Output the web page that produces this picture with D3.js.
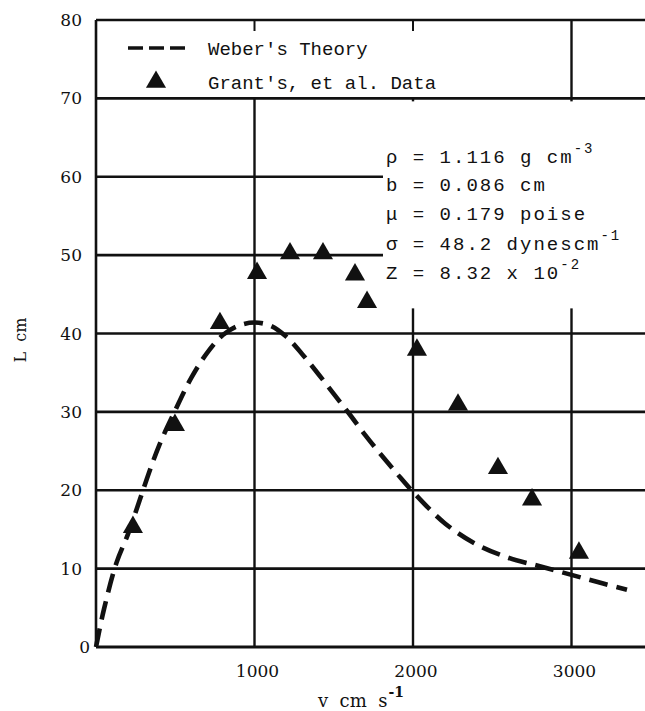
<!DOCTYPE html>
<meta charset="utf-8">
<style>
  body { margin: 0; background: #fff; }
  text { white-space: pre; }
  .tick-label { font-family: "DejaVu Serif", serif; font-size: 17px; fill: #111; }
  .mono { font-family: "Liberation Mono", "DejaVu Sans Mono", monospace; fill: #111; }
</style>
<body>
<div class="chart"></div>
<script src="https://d3js.org/d3.v7.min.js"></script>
<script>

// Grant's et al. data (v in cm/s, L in cm)
var dataV = [233, 498, 782, 1016, 1224, 1432, 1634, 1710, 2025, 2284, 2536, 2751, 3047];
var dataL = [15.3, 28.3, 41.3, 47.7, 50.2, 50.2, 47.5, 44.0, 37.9, 30.9, 22.8, 18.8, 12.0];

// Weber's theory curve
var theoryV = [0, 50, 130, 200, 260, 320, 400, 500, 600, 700, 800, 900, 1000, 1100, 1200,
               1300, 1400, 1500, 1600, 1700, 1800, 1900, 2000, 2200, 2400, 2600, 2800, 3000, 3200, 3350];
var theoryL = [0, 4.8, 10.8, 14.3, 17.8, 21.4, 25.8, 30.2, 34.3, 37.5, 39.8, 41.0, 41.4, 41.0, 39.6,
               37.4, 34.9, 32.3, 29.7, 27.0, 24.5, 22.1, 19.8, 15.8, 13.1, 11.4, 10.3, 9.2, 8.1, 7.3];

var xTicks = [1000, 2000, 3000];
var yTicks = [0, 10, 20, 30, 40, 50, 60, 70, 80];

var width = 645, height = 711;

var x = d3.scaleLinear().domain([0, 3500]).range([96, 650.75]);
var y = d3.scaleLinear().domain([0, 80]).range([647, 20]);

var svg = d3.select(".chart").append("svg")
    .attr("width", width)
    .attr("height", height);

// horizontal grid lines (and top frame)
svg.selectAll(".hgrid")
    .data(yTicks.slice(1))
  .enter().append("line")
    .attr("x1", x(0))
    .attr("x2", width + 5)
    .attr("y1", function(d) { return y(d); })
    .attr("y2", function(d) { return y(d); })
    .style("stroke", "#111")
    .style("stroke-width", 2.6);

// vertical grid lines: 1000 & 2000 start at the 70 line, 3000 from the top
svg.selectAll(".vgrid")
    .data(xTicks)
  .enter().append("line")
    .attr("x1", function(d) { return x(d); })
    .attr("x2", function(d) { return x(d); })
    .attr("y1", function(d) { return d === 3000 ? y(80) : y(70); })
    .attr("y2", y(0))
    .style("stroke", "#111")
    .style("stroke-width", 2.4);

// small ticks under the top frame
svg.selectAll(".toptick")
    .data(xTicks.slice(0, 2))
  .enter().append("line")
    .attr("x1", function(d) { return x(d); })
    .attr("x2", function(d) { return x(d); })
    .attr("y1", y(80))
    .attr("y2", y(80) + 11)
    .style("stroke", "#111")
    .style("stroke-width", 2);

// white panel behind the parameter block
svg.append("rect")
    .attr("x", 383)
    .attr("y", y(70) + 3)
    .attr("width", 280)
    .attr("height", 207)
    .style("fill", "#fff");

// axes lines
svg.append("line")
    .attr("x1", x(0)).attr("x2", x(0))
    .attr("y1", y(80)).attr("y2", y(0))
    .style("stroke", "#111").style("stroke-width", 2.6);
svg.append("line")
    .attr("x1", x(0)).attr("x2", width + 5)
    .attr("y1", y(0)).attr("y2", y(0))
    .style("stroke", "#111").style("stroke-width", 3.2);

// y tick labels
svg.selectAll(".ylab")
    .data(yTicks)
  .enter().append("text")
    .attr("class", "tick-label")
    .attr("x", function(d) { return d === 0 ? 90 : 82; })
    .attr("y", function(d) { return y(d) + 6; })
    .style("text-anchor", "end")
    .text(function(d) { return d; });

// x tick labels
svg.selectAll(".xlab")
    .data(xTicks)
  .enter().append("text")
    .attr("class", "tick-label")
    .attr("x", function(d) { return x(d) + 3; })
    .attr("y", 677)
    .style("text-anchor", "middle")
    .text(function(d) { return d; });

// x axis title
var xt = svg.append("text")
    .attr("class", "tick-label")
    .attr("x", 318)
    .attr("y", 707)
    .style("font-size", "18px");
xt.append("tspan").text("v  cm  s");
xt.append("tspan").attr("dx", 1).attr("dy", -10).style("font-size", "14px").style("font-weight", "bold").text("-1");

// y axis title
svg.append("text")
    .attr("class", "tick-label")
    .attr("transform", "translate(26,340) rotate(-90)")
    .style("text-anchor", "middle")
    .style("font-size", "16px")
    .text("L  cm");

// Weber's theory dashed curve
var pts = theoryV.map(function(v, i) { return [v, theoryL[i]]; });
var line = d3.line()
    .curve(d3.curveCatmullRom)
    .x(function(d) { return x(d[0]); })
    .y(function(d) { return y(d[1]); });

svg.append("path")
    .datum(pts)
    .attr("d", line)
    .style("fill", "none")
    .style("stroke", "#111")
    .style("stroke-width", 4.6)
    .style("stroke-dasharray", "19,9");

// data triangles
var tri = d3.symbol().type(d3.symbolTriangle).size(175);
svg.selectAll(".dot")
    .data(dataV)
  .enter().append("path")
    .attr("d", tri)
    .attr("transform", function(d, i) {
      return "translate(" + x(d) + "," + y(dataL[i]) + ")";
    })
    .style("fill", "#111");

// legend
svg.append("line")
    .attr("x1", 128).attr("x2", 186)
    .attr("y1", 48).attr("y2", 48)
    .style("stroke", "#111")
    .style("stroke-width", 3.5)
    .style("stroke-dasharray", "15,6");
svg.append("text")
    .attr("class", "mono")
    .attr("x", 208).attr("y", 55)
    .style("font-size", "19px")
    .text("Weber's Theory");
svg.append("path")
    .attr("d", tri)
    .attr("transform", "translate(156,82)")
    .style("fill", "#111");
svg.append("text")
    .attr("class", "mono")
    .attr("x", 208).attr("y", 89)
    .style("font-size", "19px")
    .text("Grant's, et al. Data");

// parameter block
var params = [
  {t: "\u03c1 = 1.116 g cm", sup: "-3", y: 163},
  {t: "b = 0.086 cm", sup: "", y: 191},
  {t: "\u03bc = 0.179 poise", sup: "", y: 220},
  {t: "\u03c3 = 48.2 dynescm", sup: "-1", y: 250},
  {t: "Z = 8.32 x 10", sup: "-2", y: 279}
];
params.forEach(function(p) {
  var t = svg.append("text")
      .attr("class", "mono")
      .attr("x", 386)
      .attr("y", p.y)
      .style("font-size", "19px")
      .style("letter-spacing", p.t.length > 16 ? "0.6px" : "2px");
  t.append("tspan").text(p.t);
  if (p.sup) t.append("tspan").attr("dy", -10).style("font-size", "14px").text(p.sup);
});

</script>
</body>
